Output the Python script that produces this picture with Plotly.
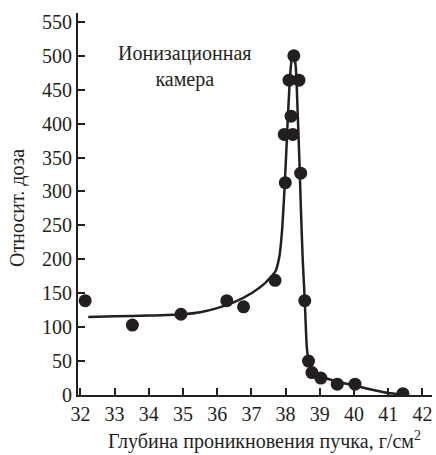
import plotly.graph_objects as go

# Measured relative dose vs. penetration depth (ionization chamber)
depth_pts = [32.14, 33.52, 34.94, 36.28, 36.77, 37.69, 37.99, 37.96, 38.21,
             38.16, 38.10, 38.39, 38.24, 38.44, 38.56, 38.67, 38.77, 39.03,
             39.51, 40.03, 41.43]
dose_pts = [139, 103, 119, 139, 130, 169, 313, 384, 384,
            411, 464, 464, 500, 327, 139, 50, 33, 25,
            16, 16, 2]

# Smoothed Bragg curve through the measurements
depth_curve = [32.23, 33.0, 34.0, 35.0, 35.5, 36.0, 36.5, 37.0, 37.4, 37.7,
               37.82, 37.9, 37.98, 38.05, 38.12, 38.18, 38.24, 38.30, 38.35,
               38.40, 38.45, 38.50, 38.56, 38.62, 38.70, 38.85, 39.0, 39.5,
               40.0, 40.5, 41.0, 41.4]
dose_curve = [115, 116, 117, 119, 122, 128, 137, 150, 165, 182,
              205, 245, 315, 392, 462, 496, 502, 482, 420,
              350, 270, 200, 139, 70, 42, 33, 28, 20,
              14, 8, 3, 1]

x_ticks = list(range(32, 43))
y_ticks = list(range(0, 551, 50))

FONT = "Liberation Serif"
INK = "#231f20"

# Plot area in pixels
L, R, T, B = 78, 4, 13, 60
W, H = 436, 455
PW, PH = W - L - R, H - T - B


def px_to_paper(px, py):
    return (px - L) / PW, (H - B - py) / PH


fig = go.Figure()
fig.add_trace(go.Scatter(
    x=depth_curve, y=dose_curve, mode="lines",
    line=dict(color=INK, width=2.5, shape="spline", smoothing=0.5),
    hoverinfo="skip", showlegend=False,
))
fig.add_trace(go.Scatter(
    x=depth_pts, y=dose_pts, mode="markers",
    marker=dict(color=INK, size=13),
    showlegend=False,
))

axis_common = dict(
    showline=True, linecolor=INK, linewidth=2,
    ticks="inside", ticklen=7, tickwidth=1.5, tickcolor=INK,
    showgrid=False, zeroline=False,
    tickfont=dict(family=FONT, size=20, color=INK),
)

fig.update_xaxes(range=[31.93, 42.28], tickvals=x_ticks,
                 ticktext=[str(v) for v in x_ticks], **axis_common)
fig.update_yaxes(range=[0, 563], tickvals=y_ticks,
                 ticktext=[str(v) for v in y_ticks], **axis_common)

label_font = dict(family=FONT, size=20, color=INK)

fig.add_annotation(
    x=35.06, y=484, xref="x", yref="y",
    xanchor="center", yanchor="middle",
    text="Ионизационная<br>камера", showarrow=False,
    font=label_font, align="center",
)
tx, ty = px_to_paper(264, 440)
fig.add_annotation(
    x=tx, y=ty, xref="paper", yref="paper",
    xanchor="center", yanchor="middle",
    text="Глубина проникновения пучка, г/см<sup>2</sup>", showarrow=False,
    font=label_font,
)
yx, yy = px_to_paper(17, 208)
fig.add_annotation(
    x=yx, y=yy, xref="paper", yref="paper",
    xanchor="center", yanchor="middle",
    text="Относит. доза", textangle=-90, showarrow=False,
    font=label_font,
)

fig.update_layout(
    width=W, height=H,
    margin=dict(l=L, r=R, t=T, b=B),
    plot_bgcolor="white", paper_bgcolor="white",
    font=dict(family=FONT, color=INK),
)

fig.write_html("out.html")
